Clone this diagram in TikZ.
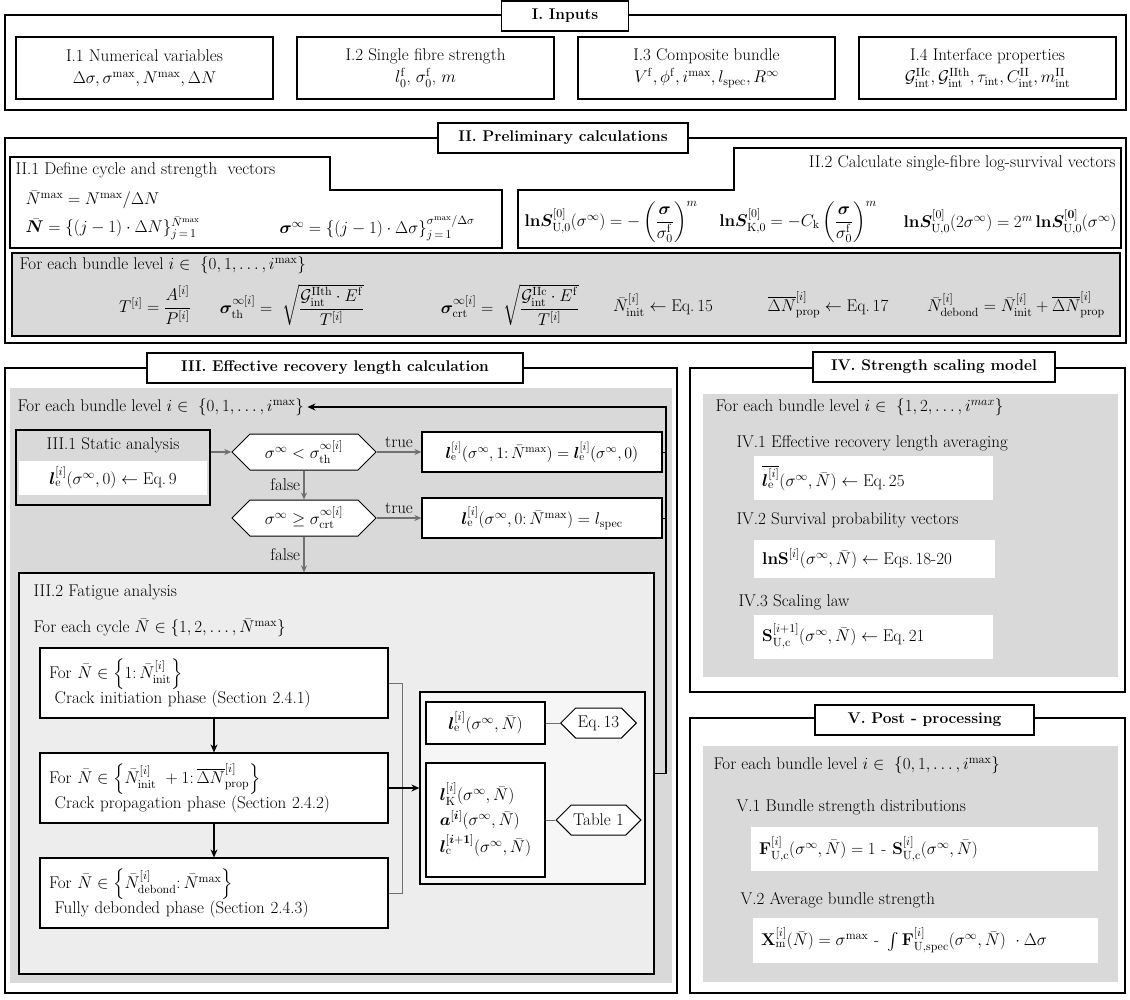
\documentclass[tikz,border=0pt]{standalone}
\usepackage{fix-cm}
\usepackage{amsmath}
\usepackage{amssymb}
\usepackage{bm}
\usetikzlibrary{positioning, shapes.symbols, arrows.meta}

\definecolor{panelgray}{HTML}{D9D9D9}
\definecolor{innergray}{HTML}{EDEDED}
\definecolor{flowgray}{HTML}{707070}

\newcommand{\Nb}{\bar{N}}
\newcommand{\rmm}[1]{\mathrm{#1}}

\begin{document}
\begin{tikzpicture}[x=1pt, y=-1pt,
	font=\fontsize{17}{20}\selectfont,
	panel/.style={draw, line width=1.4pt},
	headbox/.style={draw, line width=1.4pt, fill=white, font=\fontsize{15.5}{18}\selectfont\bfseries, minimum height=30pt, inner xsep=4pt},
	box/.style={draw, line width=1.2pt, fill=white, align=center, inner sep=2pt},
	wbox/.style={fill=white, inner xsep=8pt, align=left},
	hexa/.style={draw, line width=1pt, fill=white, signal, signal to=west and east, inner xsep=2pt},
	flowarrow/.style={-{Stealth[length=7pt,width=6pt]}, draw=flowgray, line width=1.2pt},
	blackarrow/.style={-{Stealth[length=8pt,width=7pt]}, line width=1.3pt},
	link/.style={draw=flowgray, line width=1pt},
	]
	\useasboundingbox (0,0) rectangle (1130,999);
	
	%% ── I. Inputs ──────────────────────────────────────────────────────────
	\draw[panel] (5,15) rectangle (1126,110);
	\node[headbox, minimum width=127pt] (hI) at (565,16) {I. Inputs};
	
	\node[box, minimum width=257pt, minimum height=62pt] (inp1) at (144.5,68) {I.1 Numerical variables\\[2pt] $\Delta\sigma, \sigma^{\max}, N^{\max}, \Delta N$};
	\node[box, minimum width=257pt, minimum height=62pt] (inp2) at (425.5,68) {I.2 Single fibre strength\\[2pt] $l_0^{\rmm f}$, $\sigma_0^{\rmm f}$, $m$};
	\node[box, minimum width=257pt, minimum height=62pt] (inp3) at (706.5,68) {I.3 Composite bundle\\[2pt] $V^{\rmm f}, \phi^{\rmm f}, i^{\max}, l_{\rmm{spec}}, R^{\infty}$};
	\node[box, minimum width=257pt, minimum height=62pt] (inp4) at (987.5,68) {I.4 Interface properties\\[2pt] $\mathcal{G}^{\rmm{IIc}}_{\rmm{int}},\mathcal{G}^{\rmm{IIth}}_{\rmm{int}}, \tau_{\rmm{int}}, C^{\rmm{II}}_{\rmm{int}},m^{\rmm{II}}_{\rmm{int}}$};
	
	%% ── II. Preliminary calculations ───────────────────────────────────────
	\draw[panel] (5,138) rectangle (1126,343);
	\node[headbox, minimum width=250pt] (hII) at (563,138) {II. Preliminary calculations};
	
	\draw[line width=1.2pt, fill=white] (10,157) -- (330,157) -- (330,190) -- (502,190) -- (502,248) -- (10,248) -- cycle;
	\draw[line width=1.2pt, fill=white] (518,248) -- (518,190) -- (734,190) -- (734,148) -- (1121,148) -- (1121,248) -- cycle;
	
	\node[anchor=west] (t21) at (12,170) {II.1 Define cycle and strength\ \ vectors};
	\node[anchor=west] (nmax) at (22,200) {$\Nb^{\max} = N^{\max}/\Delta N$};
	\node[anchor=west] (nvec) at (22,228) {$\bar{\bm N} = \{(j-1)\cdot\Delta N\}_{j\,=\,1}^{\Nb^{\max}}$};
	\node[anchor=west] (svec) at (276,228) {$\bm\sigma^{\infty} = \{(j-1)\cdot\Delta\sigma\}_{j\,=\,1}^{\sigma^{\max}/\Delta\sigma}$};
	
	\node[anchor=east] (t22) at (1119,163) {II.2 Calculate single-fibre log-survival vectors};
	\node[anchor=west] (lsu) at (521,222) {$\mathbf{ln}\bm S^{[0]}_{\rmm{U,0}}(\sigma^{\infty}) = -\left(\dfrac{\bm\sigma}{\sigma_0^{\rmm f}}\right)^{m}$};
	\node (lsk) at (798,222) {$\mathbf{ln}\bm S^{[0]}_{\rmm{K,0}}= -C_{\rmm k}\left(\dfrac{\bm\sigma}{\sigma_0^{\rmm f}}\right)^{m}$};
	\node[anchor=east] (lsd) at (1120,222) {$\mathbf{ln}\bm S^{[0]}_{\rmm{U,0}}(2\sigma^{\infty}) = 2^{m}\,\mathbf{ln}\bm S^{[\mathbf 0]}_{\rmm{U,0}}(\sigma^{\infty})$};
	
	\draw[line width=1.6pt, fill=panelgray] (12,253) rectangle (1120,336);
	\node[anchor=west] (bII) at (16,265) {For each bundle level $i\in\ \{0,1,\dots,i^{\max}\}$};
	\node (tq) at (155,305) {$T^{[i]} = \dfrac{A^{[i]}}{P^{[i]}}$};
	\node (sth) at (292,305) {$\bm\sigma_{\rmm{th}}^{\infty[i]} =\ \sqrt{\dfrac{\mathcal{G}^{\rmm{IIth}}_{\rmm{int}}\cdot E^{\rmm f}}{T^{[i]}}}$};
	\node (scr) at (510,305) {$\bm\sigma_{\rmm{crt}}^{\infty[i]} =\ \sqrt{\dfrac{\mathcal{G}^{\rmm{IIc}}_{\rmm{int}}\cdot E^{\rmm f}}{T^{[i]}}}$};
	\node (nin) at (663,305) {$\Nb^{[i]}_{\rmm{init}} \leftarrow \text{Eq.\,15}$};
	\node (dnp) at (828,305) {$\overline{\Delta N}^{[i]}_{\rmm{prop}} \leftarrow \text{Eq.\,17}$};
	\node (ndb) at (1016,305) {$\Nb^{[i]}_{\rmm{debond}} = \Nb^{[i]}_{\rmm{init}} + \overline{\Delta N}^{[i]}_{\rmm{prop}}$};
	
	%% ── III. Effective recovery length calculation ─────────────────────────
	\draw[panel] (5,368) rectangle (677,993);
	\fill[panelgray] (10,388) rectangle (672,983);
	\node[headbox, minimum width=376pt] (hIII) at (335,368) {III. Effective recovery length calculation};
	
	\node[anchor=west] (bIII) at (14,407) {For each bundle level $i\in\ \{0,1,\dots,i^{\max}\}$};
	
	\node[draw, line width=2.2pt, minimum width=194pt, minimum height=75pt] (stat) at (113,467.5) {};
	\node (statt) at (113,445) {III.1 Static analysis};
	\node[fill=white, minimum width=188pt, minimum height=34pt] (statq) at (113,478) {$\bm l_{\rmm e}^{[i]}(\sigma^{\infty},0) \leftarrow \text{Eq.\,9}$};
	
	\node[hexa, minimum width=144pt, minimum height=36pt] (d1) at (304,452) {$\sigma^{\infty} < \sigma_{\rmm{th}}^{\infty[i]}$};
	\node[hexa, minimum width=144pt, minimum height=36pt] (d2) at (304,518) {$\sigma^{\infty} \geq \sigma_{\rmm{crt}}^{\infty[i]}$};
	\node[box, minimum width=240pt, minimum height=40pt, font=\fontsize{16}{19}\selectfont] (r1) at (542,452) {$\bm l_{\rmm e}^{[i]}(\sigma^{\infty},1{:}\,\Nb^{\max}) = \bm l_{\rmm e}^{[i]}(\sigma^{\infty},0)$};
	\node[box, minimum width=240pt, minimum height=40pt] (r2) at (542,518) {$\bm l_{\rmm e}^{[i]}(\sigma^{\infty},0{:}\,\Nb^{\max}) = l_{\rmm{spec}}$};
	
	\draw[flowarrow] (stat.east |- d1) -- (d1.west);
	\draw[flowarrow] (d1.east) -- node[above] {true} (r1.west);
	\draw[flowarrow] (d2.east) -- node[above] {true} (r2.west);
	\draw[flowarrow] (d1.south) -- node[left] {false} (d2.north);
	
	%% fatigue analysis
	\node[draw, line width=1.2pt, fill=innergray, minimum width=635pt, minimum height=401pt] (fat) at (336.5,773.5) {};
	\draw[flowarrow] (d2.south) -- node[left] {false} (d2.south |- fat.north);
	\node[anchor=west] (fatt) at (30,592) {III.2 Fatigue analysis};
	\node[anchor=west] (cyc) at (30,628) {For each cycle $\Nb\in\{1,2,\dots,\Nb^{\max}\}$};
	
	\node[box, align=left, text width=330pt, inner xsep=9pt, minimum height=70pt] (p1) at (214,683) {For $\Nb\in\left\{1{:}\,\Nb^{[i]}_{\rmm{init}}\right\}$\\ \ Crack initiation phase (Section 2.4.1)};
	\node[box, align=left, text width=330pt, inner xsep=9pt, minimum height=70pt] (p2) at (214,788) {For $\Nb\in\left\{\Nb^{[i]}_{\rmm{init}}\ +1{:}\,\overline{\Delta N}^{[i]}_{\rmm{prop}}\right\}$\\ \ Crack propagation phase (Section 2.4.2)};
	\node[box, align=left, text width=330pt, inner xsep=9pt, minimum height=70pt] (p3) at (214,893) {For $\Nb\in\left\{\Nb^{[i]}_{\rmm{debond}}{:}\,\Nb^{\max}\right\}$\\ \ Fully debonded phase (Section 2.4.3)};
	
	\draw[blackarrow] (p1.south) -- (p2.north);
	\draw[blackarrow] (p2.south) -- (p3.north);
	\draw[link] (p1.east) -- ++(14,0) |- (p3.east);
	
	\node[draw, line width=1.2pt, fill=innergray!50!white, minimum width=225pt, minimum height=192pt] (cont) at (532.5,788) {};
	\node[box, minimum width=119pt, minimum height=42pt] (oa) at (485.5,723) {$\bm l_{\rmm e}^{[i]}(\sigma^{\infty},\Nb)$};
	\node[box, align=left, minimum width=119pt, minimum height=114pt] (ob) at (485.5,820) {$\bm l_{\rmm K}^{[i]}(\sigma^{\infty},\Nb)$\\[4pt] $\bm a^{[\bm i]}(\sigma^{\infty},\Nb)$\\[4pt] $\bm l_{\rmm c}^{[\bm i+\bm 1]}(\sigma^{\infty},\Nb)$};
	\node[hexa, minimum width=75pt, minimum height=30pt] (eq13) at (598.5,723) {Eq.\,13};
	\node[hexa, minimum width=80pt, minimum height=30pt] (tab1) at (598.5,820) {Table 1};
	\draw[link] (oa.east) -- (eq13.west);
	\draw[link] (ob.east) -- (tab1.west);
	
	\draw[blackarrow] (p2.east) -- (cont.west);
	
	%% loop back to the next bundle level
	\coordinate (loopc) at (666,773.5);
	\draw[line width=1pt] (r1.east) -- (r1.east -| loopc);
	\draw[line width=1pt] (r2.east) -- (r2.east -| loopc);
	\draw[blackarrow] (fat.east) -- (loopc) |- (bIII.east);
	
	%% ── IV. Strength scaling model ─────────────────────────────────────────
	\draw[panel] (690,368) rectangle (1125,692);
	\fill[panelgray] (703,394) rectangle (1118,677);
	\node[headbox, minimum width=242pt] (hIV) at (934,367) {IV. Strength scaling model};
	
	\node[anchor=west] (bIV) at (712,407) {For each bundle level $i\in\ \{1,2,\dots,i^{max}\}$};
	\node[anchor=west] (t41) at (733,443) {IV.1 Effective recovery length averaging};
	\node[wbox, anchor=west, text width=223pt, minimum height=44pt] (q41) at (754,478) {$\overline{\bm l_{\rmm e}^{[i]}}(\sigma^{\infty},\Nb) \leftarrow \text{Eq.\,25}$};
	\node[anchor=west] (t42) at (733,520) {IV.2 Survival probability vectors};
	\node[wbox, anchor=west, text width=225pt, minimum height=38pt] (q42) at (754,558.5) {$\mathbf{lnS}^{[i]}(\sigma^{\infty},\Nb) \leftarrow \text{Eqs.\,18-20}$};
	\node[anchor=west] (t43) at (735,602) {IV.3 Scaling law};
	\node[wbox, anchor=west, text width=223pt, minimum height=44pt] (q43) at (754,636.5) {$\mathbf S^{[i+1]}_{\rmm{U,c}}(\sigma^{\infty},\Nb) \leftarrow \text{Eq.\,21}$};
	
	%% ── V. Post-processing ─────────────────────────────────────────────────
	\draw[panel] (690,718) rectangle (1125,993);
	\fill[panelgray] (703,746) rectangle (1118,982);
	\node[headbox, minimum width=219pt] (hV) at (924.5,720) {V. Post - processing};
	
	\node[anchor=west] (bV) at (710,765) {For each bundle level $i\in\ \{0,1,\dots,i^{\max}\}$};
	\node[anchor=west] (t51) at (733,807) {V.1 Bundle strength distributions};
	\node[wbox, anchor=west, text width=331pt, minimum height=44pt] (q51) at (751,849) {$\mathbf F^{[i]}_{\rmm{U,c}}(\sigma^{\infty},\Nb) = 1 \text{ - } \mathbf S^{[i]}_{\rmm{U,c}}(\sigma^{\infty},\Nb)$};
	\node[anchor=west] (t52) at (737,900) {V.2 Average bundle strength};
	\node[wbox, anchor=west, text width=329pt, minimum height=45pt] (q52) at (753,940.5) {$\mathbf X^{[i]}_{\rmm m}(\Nb) = \sigma^{\max} \text{ - } \int \mathbf F^{[i]}_{\rmm{U,spec}}(\sigma^{\infty},\Nb)\ \cdot\Delta\sigma$};
	
\end{tikzpicture}
\end{document}
